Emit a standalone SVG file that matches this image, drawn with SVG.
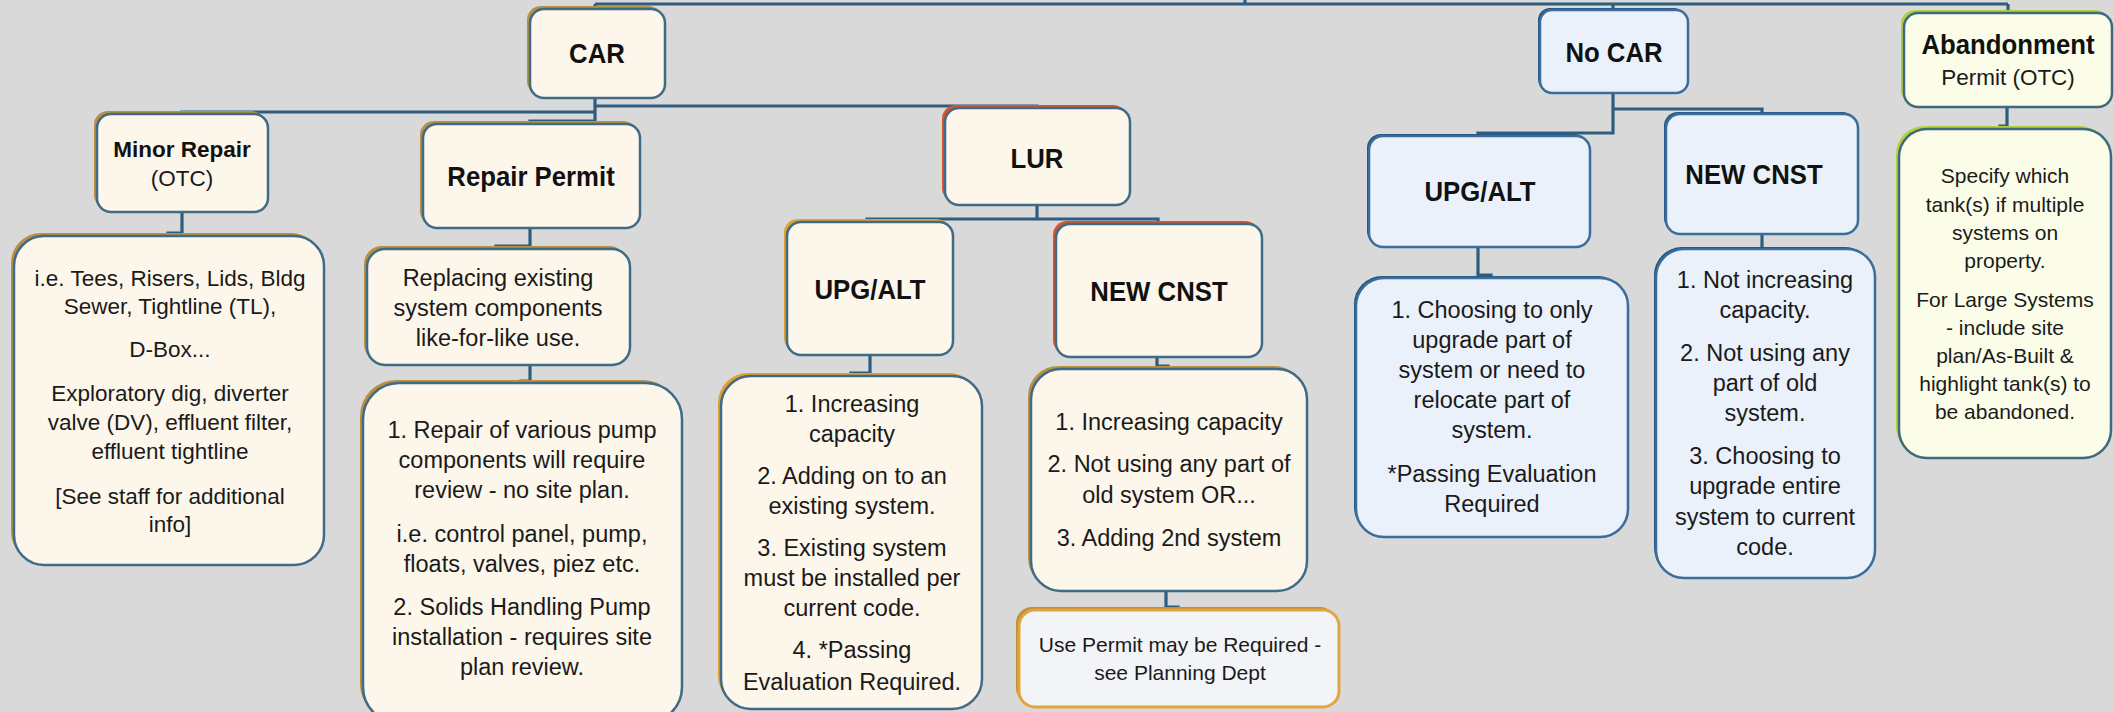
<svg xmlns="http://www.w3.org/2000/svg" width="2114" height="712" viewBox="0 0 2114 712">
<style>
.bg{fill:#d9d9d9}
.cn path{fill:none;stroke:#2e5d7e;stroke-width:3.2}
.sg{fill:#b89040}
.sr{fill:#d9532b}
.so{fill:#e0a030}
.sb{fill:#24537f}
.sy{fill:#b3d13a}
.bc{fill:#fdf6ea;stroke:#3f6b87;stroke-width:2.5}
.bb{fill:#eaf1fa;stroke:#3a6c9c;stroke-width:2.5}
.by{fill:#fbfde8;stroke:#3e6a7e;stroke-width:2.5}
.bu{fill:#f3f4f7;stroke:#e3a43c;stroke-width:3}
text{font-family:"Liberation Sans",Arial,sans-serif;fill:#1a1a1a;text-anchor:middle}
.h{font-weight:bold;font-size:28px;fill:#111}
.hs{font-weight:bold;font-size:22.5px;fill:#111}
.t{font-size:23.5px}
.ts{font-size:22.5px}
.tx{font-size:21px}
</style>
<rect class="bg" x="0" y="0" width="2114" height="712"/>

<g class="cn" id="connectors">
<path d="M1245,-2 V4 M595,4 H2008 M595,4 V9 M1613,4 V10 M2008,4 V13"/>
<path d="M595,98 V121 M595,106 H1037 V108 M595,112 H182 V114 M595,121 H530 V124"/>
<path d="M182,212 V233 H168 V236"/>
<path d="M530,228 V246 H496 V249"/>
<path d="M530,365 V381 H521 V383"/>
<path d="M1037,205 V219 H867 V222 M1037,219 H1158 V224"/>
<path d="M870,355 V373 H851 V376"/>
<path d="M1157,357 V366 H1168 V369"/>
<path d="M1166,591 V607 H1178 V610"/>
<path d="M1613,93 V133 H1478 V136 M1613,109 H1762 V114"/>
<path d="M1478,247 V275 H1491 V278"/>
<path d="M1762,234 V249"/>
<path d="M2007,107 V126 H2000 V129"/>
</g>

<g id="car">
<rect class="sg" x="527" y="6" width="135" height="89" rx="14"/>
<rect class="bc" x="530" y="9" width="135" height="89" rx="14"/>
<text class="h" transform="translate(597,63) scale(0.92,1)">CAR</text>
</g>

<g id="minor-repair">
<rect class="sg" x="94" y="111" width="171" height="98" rx="14"/>
<rect class="bc" x="97" y="114" width="171" height="98" rx="14"/>
<text class="hs" x="182" y="157">Minor Repair</text>
<text class="ts" x="182" y="186">(OTC)</text>
</g>

<g id="minor-repair-detail">
<rect class="sg" x="11" y="233" width="310" height="329" rx="30"/>
<rect class="bc" x="14" y="236" width="310" height="329" rx="30"/>
<text class="ts"><tspan x="170" y="286">i.e. Tees, Risers, Lids, Bldg</tspan><tspan x="170" y="314">Sewer, Tightline (TL),</tspan><tspan x="170" y="357">D-Box...</tspan><tspan x="170" y="401">Exploratory dig, diverter</tspan><tspan x="170" y="430">valve (DV), effluent filter,</tspan><tspan x="170" y="459">effluent tightline</tspan><tspan x="170" y="504">[See staff for additional</tspan><tspan x="170" y="532">info]</tspan></text>
</g>

<g id="repair-permit">
<rect class="sg" x="420" y="121" width="217" height="104" rx="14"/>
<rect class="bc" x="423" y="124" width="217" height="104" rx="14"/>
<text class="h" transform="translate(531,186) scale(0.92,1)">Repair Permit</text>
</g>

<g id="repair-detail-1">
<rect class="sg" x="364" y="246" width="263" height="116" rx="18"/>
<rect class="bc" x="367" y="249" width="263" height="116" rx="18"/>
<text class="t"><tspan x="498" y="286">Replacing existing</tspan><tspan x="498" y="316">system components</tspan><tspan x="498" y="346">like-for-like use.</tspan></text>
</g>

<g id="repair-detail-2">
<rect class="sg" x="360" y="380" width="319" height="340" rx="36"/>
<rect class="bc" x="363" y="383" width="319" height="340" rx="36"/>
<text class="t"><tspan x="522" y="438">1. Repair of various pump</tspan><tspan x="522" y="468">components will require</tspan><tspan x="522" y="498">review - no site plan.</tspan><tspan x="522" y="542">i.e. control panel, pump,</tspan><tspan x="522" y="572">floats, valves, piez etc.</tspan><tspan x="522" y="615">2. Solids Handling Pump</tspan><tspan x="522" y="645">installation - requires site</tspan><tspan x="522" y="675">plan review.</tspan></text>
</g>

<g id="lur">
<rect class="sr" x="942" y="105" width="185" height="97" rx="14"/>
<rect class="bc" x="945" y="108" width="185" height="97" rx="14"/>
<text class="h" transform="translate(1037,168) scale(0.92,1)">LUR</text>
</g>

<g id="lur-upg-alt">
<rect class="so" x="784" y="219" width="166" height="133" rx="14"/>
<rect class="bc" x="787" y="222" width="166" height="133" rx="14"/>
<text class="h" transform="translate(870,299) scale(0.92,1)">UPG/ALT</text>
</g>

<g id="lur-new-cnst">
<rect class="sr" x="1053" y="221" width="206" height="133" rx="14"/>
<rect class="bc" x="1056" y="224" width="206" height="133" rx="14"/>
<text class="h" transform="translate(1159,301) scale(0.92,1)">NEW CNST</text>
</g>

<g id="lur-upg-alt-detail">
<rect class="so" x="718" y="373" width="261" height="333" rx="30"/>
<rect class="bc" x="721" y="376" width="261" height="333" rx="30"/>
<text class="t"><tspan x="852" y="412">1. Increasing</tspan><tspan x="852" y="442">capacity</tspan><tspan x="852" y="484">2. Adding on to an</tspan><tspan x="852" y="514">existing system.</tspan><tspan x="852" y="556">3. Existing system</tspan><tspan x="852" y="586">must be installed per</tspan><tspan x="852" y="616">current code.</tspan><tspan x="852" y="658">4. *Passing</tspan><tspan x="852" y="690">Evaluation Required.</tspan></text>
</g>

<g id="lur-new-cnst-detail">
<rect class="sg" x="1028" y="366" width="276" height="222" rx="30"/>
<rect class="bc" x="1031" y="369" width="276" height="222" rx="30"/>
<text class="t"><tspan x="1169" y="430">1. Increasing capacity</tspan><tspan x="1169" y="472">2. Not using any part of</tspan><tspan x="1169" y="503">old system OR...</tspan><tspan x="1169" y="546">3. Adding 2nd system</tspan></text>
</g>

<g id="use-permit">
<rect class="sg" x="1016" y="607" width="320" height="97" rx="16"/>
<rect class="bu" x="1019" y="610" width="320" height="97" rx="16"/>
<text class="tx"><tspan x="1180" y="652">Use Permit may be Required -</tspan><tspan x="1180" y="680">see Planning Dept</tspan></text>
</g>

<g id="no-car">
<rect class="sb" x="1538" y="8" width="148" height="83" rx="12"/>
<rect class="bb" x="1540" y="10" width="148" height="83" rx="12"/>
<text class="h" transform="translate(1614,62) scale(0.92,1)">No CAR</text>
</g>

<g id="nocar-upg-alt">
<rect class="sb" x="1367" y="134" width="221" height="111" rx="14"/>
<rect class="bb" x="1369" y="136" width="221" height="111" rx="14"/>
<text class="h" transform="translate(1480,201) scale(0.92,1)">UPG/ALT</text>
</g>

<g id="nocar-new-cnst">
<rect class="sb" x="1664" y="112" width="192" height="120" rx="14"/>
<rect class="bb" x="1666" y="114" width="192" height="120" rx="14"/>
<text class="h" transform="translate(1754,184) scale(0.92,1)">NEW CNST</text>
</g>

<g id="nocar-upg-alt-detail">
<rect class="sb" x="1354" y="276" width="272" height="259" rx="28"/>
<rect class="bb" x="1356" y="278" width="272" height="259" rx="28"/>
<text class="t"><tspan x="1492" y="318">1. Choosing to only</tspan><tspan x="1492" y="348">upgrade part of</tspan><tspan x="1492" y="378">system or need to</tspan><tspan x="1492" y="408">relocate part of</tspan><tspan x="1492" y="438">system.</tspan><tspan x="1492" y="482">*Passing Evaluation</tspan><tspan x="1492" y="512">Required</tspan></text>
</g>

<g id="nocar-new-cnst-detail">
<rect class="sb" x="1654" y="247" width="219" height="329" rx="28"/>
<rect class="bb" x="1656" y="249" width="219" height="329" rx="28"/>
<text class="t"><tspan x="1765" y="288">1. Not increasing</tspan><tspan x="1765" y="318">capacity.</tspan><tspan x="1765" y="361">2. Not using any</tspan><tspan x="1765" y="391">part of old</tspan><tspan x="1765" y="421">system.</tspan><tspan x="1765" y="464">3. Choosing to</tspan><tspan x="1765" y="494">upgrade entire</tspan><tspan x="1765" y="525">system to current</tspan><tspan x="1765" y="555">code.</tspan></text>
</g>

<g id="abandonment">
<rect class="sy" x="1901" y="10" width="208" height="94" rx="14"/>
<rect class="by" x="1904" y="13" width="208" height="94" rx="14"/>
<text class="h" transform="translate(2008,54) scale(0.92,1)">Abandonment</text>
<text class="ts" x="2008" y="85">Permit (OTC)</text>
</g>

<g id="abandonment-detail">
<rect class="sy" x="1896" y="126" width="212" height="329" rx="28"/>
<rect class="by" x="1899" y="129" width="212" height="329" rx="28"/>
<text class="tx"><tspan x="2005" y="183">Specify which</tspan><tspan x="2005" y="212">tank(s) if multiple</tspan><tspan x="2005" y="240">systems on</tspan><tspan x="2005" y="268">property.</tspan><tspan x="2005" y="307">For Large Systems</tspan><tspan x="2005" y="335">- include site</tspan><tspan x="2005" y="363">plan/As-Built &amp;</tspan><tspan x="2005" y="391">highlight tank(s) to</tspan><tspan x="2005" y="419">be abandoned.</tspan></text>
</g>
</svg>
